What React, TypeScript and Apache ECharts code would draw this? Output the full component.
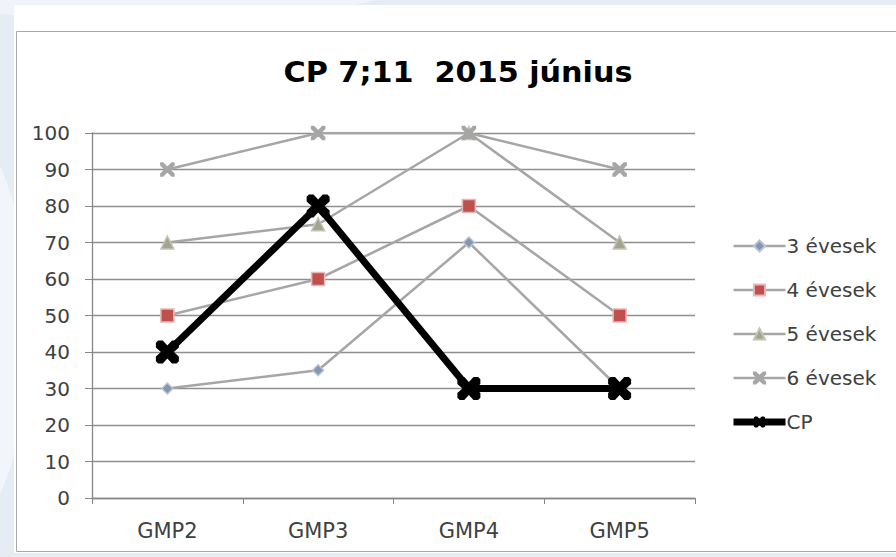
import React, { useEffect, useRef } from "react";
import * as echarts from "echarts";

const title = "CP 7;11  2015 június";
const categories = ["GMP2", "GMP3", "GMP4", "GMP5"];
const yTicks = { min: 0, max: 100, interval: 10 };
const seriesNames = ["3 évesek", "4 évesek", "5 évesek", "6 évesek", "CP"];
const s3 = [30, 35, 70, 30];
const s4 = [50, 60, 80, 50];
const s5 = [70, 75, 100, 70];
const s6 = [90, 100, 100, 90];
const cp = [40, 80, 30, 30];

const thinX =
  "path://M0,0 L1.6,0 L5,3.4 L8.4,0 L10,0 L10,1.6 L6.6,5 L10,8.4 L10,10 L8.4,10 L5,6.6 L1.6,10 L0,10 L0,8.4 L3.4,5 L0,1.6 Z";
const boldX =
  "path://M0,1 L1,0 L3,0 L5,2.2 L7,0 L9,0 L10,1 L10,3 L7.8,5 L10,7 L10,9 L9,10 L7,10 L5,7.8 L3,10 L1,10 L0,9 L0,7 L2.2,5 L0,3 Z";

export default function App() {
  const ref = useRef<HTMLDivElement>(null);
  useEffect(() => {
    if (!ref.current) return;
    const chart = echarts.init(ref.current, null, { renderer: "svg" });
    const gray = "#a6a6a6";
    const font = "'DejaVu Sans', 'Open Sans', sans-serif";
    const mk = (name: string, data: number[], symbol: string, size: number, color: string, border: string, z: number) => ({
      name,
      type: "line",
      data,
      z,
      symbol,
      symbolSize: size,
      lineStyle: { color: gray, width: 2.5 },
      itemStyle: { color, borderColor: border, borderWidth: 1.5 },
      emphasis: { disabled: true },
    });
    chart.setOption({
      animation: false,
      backgroundColor: "#e6ecf4",
      graphic: [
        { type: "ellipse", shape: { cx: -60, cy: 330, rx: 90, ry: 220 }, style: { fill: "#f2f5fa" }, z: -10 },
        { type: "ellipse", shape: { cx: 140, cy: -40, rx: 320, ry: 60 }, style: { fill: "#f0f3f9" }, z: -10 },
        { type: "rect", shape: { x: 14, y: 5, width: 900, height: 548 }, style: { fill: "#ffffff" }, z: -9 },
        { type: "rect", shape: { x: 16.5, y: 31.5, width: 900, height: 520 }, style: { fill: "#ffffff", stroke: "#a9a9a9", lineWidth: 1 }, z: -8 },
        {
          type: "text",
          x: 458,
          y: 72,
          scaleX: 1.08,
          scaleY: 1,
          z: 5,
          style: {
            text: title,
            fontFamily: font,
            fontWeight: "bold",
            fontSize: 28,
            fill: "#000000",
            textAlign: "center",
            textVerticalAlign: "middle",
          },
        },
      ],
      legend: {
        orient: "vertical",
        left: 725,
        top: 231,
        itemWidth: 52,
        itemHeight: 14,
        itemGap: 24,
        data: seriesNames.map((n, i) =>
          i === 4
            ? { name: n, lineStyle: { width: 7, color: "#000000" } }
            : { name: n, lineStyle: { width: 2.5, color: gray } }
        ),
        textStyle: { fontFamily: font, fontSize: 20, lineHeight: 20, color: "#404040", padding: [0, 0, 0, -4] },
        selectedMode: false,
      },
      grid: { left: 92, right: 201, top: 133, bottom: 59 },
      xAxis: {
        type: "category",
        data: categories,
        boundaryGap: true,
        axisLine: { lineStyle: { color: "#868686", width: 1.3 } },
        axisTick: { show: true, length: 6, lineStyle: { color: "#868686" } },
        axisLabel: { margin: 22, fontFamily: font, fontSize: 21, color: "#404040" },
        splitLine: { show: false },
      },
      yAxis: {
        type: "value",
        min: yTicks.min,
        max: yTicks.max,
        interval: yTicks.interval,
        axisLine: { show: true, lineStyle: { color: "#868686", width: 1.3 } },
        axisTick: { show: true, length: 7, lineStyle: { color: "#868686" } },
        axisLabel: { margin: 22, fontFamily: font, fontSize: 20, color: "#404040" },
        splitLine: { show: true, lineStyle: { color: "#8f8f8f", width: 1.3 } },
      },
      series: [
        mk(seriesNames[0], s3, "diamond", 11, "#8497b0", "#b8c4d4", 2),
        mk(seriesNames[1], s4, "rect", 13, "#c0504d", "#e6b9b8", 3),
        mk(seriesNames[2], s5, "triangle", 13, "#a5a58f", "#c4c4b4", 4),
        mk(seriesNames[3], s6, thinX, 13, "#a6a6a6", "#a6a6a6", 5),
        {
          name: seriesNames[4],
          type: "line",
          data: cp,
          z: 10,
          symbol: boldX,
          symbolSize: 23,
          lineStyle: { color: "#000000", width: 7 },
          itemStyle: { color: "#000000" },
          emphasis: { disabled: true },
        },
      ],
    });
    return () => chart.dispose();
  }, []);
  return (
    <div
      ref={ref}
      style={{ position: "fixed", left: 0, top: 0, width: 896, height: 557 }}
    />
  );
}
